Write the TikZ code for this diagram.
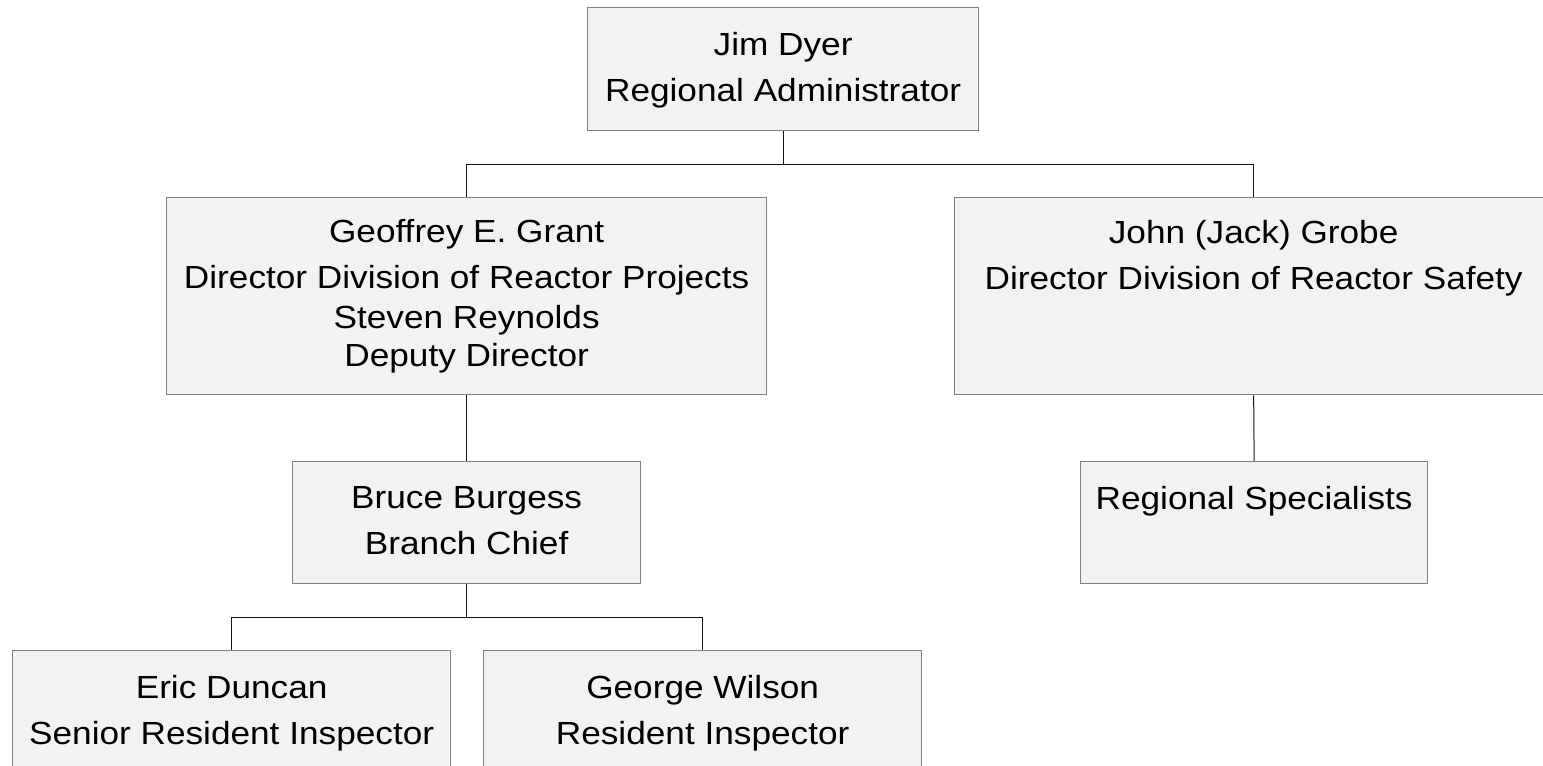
\documentclass[tikz,border=0pt]{standalone}
\usepackage{fontspec}
\setmainfont{Liberation Sans}[FakeStretch=1.1]
\definecolor{boxfill}{RGB}{242,242,242}
\definecolor{boxline}{RGB}{128,128,128}
\definecolor{wireline}{RGB}{20,20,20}
\begin{document}
\begin{tikzpicture}[x=1pt,y=-1pt,
  box/.style={draw=boxline,fill=boxfill,line width=1.3pt,rectangle,inner sep=0pt,anchor=north west},
  txt/.style={anchor=north,inner sep=0pt,align=center,font=\fontsize{32}{46}\selectfont},
  wire/.style={draw=wireline,line width=1pt}]
\useasboundingbox (0,0) rectangle (1543,766);
\clip (0,0) rectangle (1543,766);
% boxes
\node[box,minimum width=391pt,minimum height=123pt] (jim) at (587,7) {};
\node[box,minimum width=600pt,minimum height=197pt] (grant) at (166,197) {};
\node[box,minimum width=598pt,minimum height=197pt] (grobe) at (954,197) {};
\node[box,minimum width=348pt,minimum height=122pt] (bruce) at (292,461) {};
\node[box,minimum width=347pt,minimum height=122pt] (spec) at (1080,461) {};
\node[box,minimum width=438pt,minimum height=123pt] (duncan) at (12,650) {};
\node[box,minimum width=438pt,minimum height=123pt] (wilson) at (483,650) {};
% texts
\node[txt] (tjim) at ([yshift=-25.5pt]jim.north) {Jim Dyer\\Regional Administrator};
\node[txt] (tgrant) at ([yshift=-22.5pt]grant.north) {Geoffrey E. Grant\\Director Division of Reactor Projects\\[-6pt]Steven Reynolds\\[-8pt]Deputy Director};
\node[txt] (tgrobe) at ([yshift=-23.5pt]grobe.north) {John (Jack) Grobe\\Director Division of Reactor Safety};
\node[txt] (tbruce) at ([yshift=-25.5pt]bruce.north) {Bruce Burgess\\Branch Chief};
\node[txt] (tspec) at ([yshift=-25.5pt]spec.north) {Regional Specialists};
\node[txt] (tduncan) at ([yshift=-25pt]duncan.north) {Eric Duncan\\Senior Resident Inspector};
\node[txt] (twilson) at ([yshift=-25pt]wilson.north) {George Wilson\\Resident Inspector};
% connectors
\draw[wire] (jim.south) -- +(0,33) -| (grant.north);
\draw[wire] (jim.south) -- +(0,33) -| (grobe.north);
\draw[wire] (grant.south) -- (bruce.north);
\draw[wire] (grobe.south) -- (spec.north);
\draw[wire] (bruce.south) -- +(0,33) -| (duncan.north);
\draw[wire] (bruce.south) -- +(0,33) -| (wilson.north);
\end{tikzpicture}
\end{document}
